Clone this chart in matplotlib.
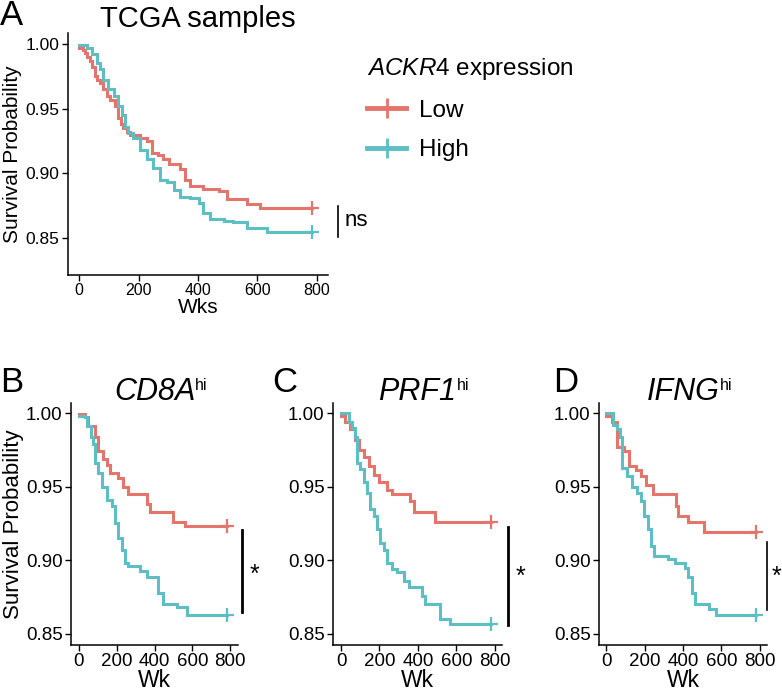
import matplotlib
matplotlib.use("Agg")
import matplotlib.pyplot as plt
from matplotlib.lines import Line2D

plt.rcParams['font.family'] = ['Liberation Sans', 'DejaVu Sans']
plt.rcParams['mathtext.fontset'] = 'custom'
plt.rcParams['mathtext.rm'] = 'Liberation Sans'
plt.rcParams['mathtext.it'] = 'Liberation Sans:italic'

RED = '#E3756D'
TEAL = '#5DBFC3'

# ---- Data (weeks, survival probability) ----
a_low_t = [0, 12, 20, 28, 37, 45, 54, 62, 71, 82, 93, 105, 121, 132, 140, 149, 160, 172, 205, 228, 244, 265,
           283, 301, 340, 357, 374, 418, 469, 497, 564, 609, 783]
a_low_s = [0.997, 0.995, 0.993, 0.990, 0.987, 0.982, 0.975, 0.972, 0.970, 0.965, 0.960, 0.957, 0.952, 0.943,
           0.938, 0.935, 0.932, 0.930, 0.927, 0.925, 0.916, 0.914, 0.911, 0.907, 0.903, 0.895, 0.890, 0.888,
           0.886, 0.880, 0.876, 0.873, 0.873]
a_high_t = [0, 28, 43, 59, 71, 82, 99, 116, 132, 144, 155, 166, 183, 205, 228, 250, 273, 295, 318, 340, 374,
            402, 418, 441, 486, 519, 564, 632, 783]
a_high_s = [0.999, 0.997, 0.992, 0.985, 0.981, 0.972, 0.965, 0.960, 0.952, 0.945, 0.936, 0.931, 0.927, 0.918,
            0.911, 0.904, 0.895, 0.893, 0.887, 0.882, 0.881, 0.877, 0.869, 0.865, 0.863, 0.862, 0.858, 0.855,
            0.855]

b_low_t = [0, 32, 49, 85, 102, 129, 147, 164, 208, 235, 261, 358, 376, 500, 562, 783]
b_low_s = [0.999, 0.997, 0.991, 0.984, 0.974, 0.969, 0.965, 0.959, 0.956, 0.950, 0.945, 0.938, 0.933, 0.926,
           0.923, 0.923]
b_high_t = [0, 32, 44, 62, 76, 85, 102, 120, 147, 173, 191, 208, 226, 244, 261, 323, 358, 420, 447, 517, 570, 783]
b_high_s = [0.998, 0.997, 0.991, 0.984, 0.979, 0.966, 0.959, 0.950, 0.941, 0.937, 0.925, 0.915, 0.907, 0.898,
            0.896, 0.893, 0.889, 0.878, 0.870, 0.868, 0.863, 0.863]

c_low_t = [0, 23, 49, 75, 92, 118, 144, 170, 196, 239, 265, 361, 378, 491, 783]
c_low_s = [0.998, 0.994, 0.989, 0.982, 0.975, 0.970, 0.964, 0.958, 0.953, 0.948, 0.945, 0.940, 0.933, 0.926,
           0.926]
c_high_t = [0, 40, 57, 75, 83, 101, 118, 135, 153, 170, 187, 205, 222, 239, 265, 291, 326, 352, 421, 439, 517,
            569, 783]
c_high_s = [1.000, 0.994, 0.990, 0.984, 0.966, 0.962, 0.953, 0.946, 0.935, 0.930, 0.921, 0.912, 0.907, 0.898,
            0.894, 0.892, 0.886, 0.882, 0.876, 0.870, 0.860, 0.857, 0.857]

d_low_t = [0, 30, 57, 92, 119, 154, 181, 207, 242, 366, 375, 428, 508, 783]
d_low_s = [0.998, 0.994, 0.977, 0.974, 0.964, 0.961, 0.957, 0.951, 0.945, 0.937, 0.930, 0.926, 0.919, 0.919]
d_high_t = [0, 35, 57, 74, 83, 110, 136, 163, 181, 198, 216, 234, 251, 322, 358, 411, 428, 446, 464, 534, 570, 783]
d_high_s = [1.000, 0.992, 0.989, 0.984, 0.963, 0.957, 0.950, 0.946, 0.940, 0.930, 0.921, 0.910, 0.903, 0.901,
            0.898, 0.895, 0.889, 0.878, 0.870, 0.867, 0.863, 0.863]

group_labels = ['Low', 'High']
gene_labels = ['CD8A', 'PRF1', 'IFNG']
x_ticks = [0, 200, 400, 600, 800]
y_ticks = [0.85, 0.90, 0.95, 1.00]
sig_labels = ['ns', '*', '*', '*']

W, H = 782, 692
fig = plt.figure(figsize=(W / 100, H / 100), dpi=100)


def px_axes(left, top, width, height):
    return fig.add_axes([left / W, (H - top - height) / H, width / W, height / H])


def style(ax, xsize, ysize):
    for s in ['top', 'right']:
        ax.spines[s].set_visible(False)
    for s in ['left', 'bottom']:
        ax.spines[s].set_linewidth(1.1)
        ax.spines[s].set_color('black')
    ax.tick_params(direction='out', length=4, width=1.0, colors='black', pad=2)
    ax.tick_params(axis='x', labelsize=xsize)
    ax.tick_params(axis='y', labelsize=ysize)
    ax.set_xticks(x_ticks)
    ax.set_yticks(y_ticks)
    ax.set_yticklabels([f'{v:.2f}' for v in y_ticks])


def km(ax, t, s, color):
    ax.step(t, s, where='post', color=color, lw=2.2, solid_joinstyle='miter')
    ax.plot([t[-1]], [s[-1]], marker='+', color=color, ms=10, mew=1.6, clip_on=False)


# ---- Panel A ----
axA = px_axes(68, 33, 260, 242)
km(axA, a_low_t, a_low_s, RED)
km(axA, a_high_t, a_high_s, TEAL)
axA.set_xlim(-37, 837)
axA.set_ylim(0.8214, 1.0085)
style(axA, 11.5, 12.5)
axA.set_xlabel('Wks', fontsize=15, labelpad=0)
axA.set_ylabel('Survival Probability', fontsize=15)
axA.yaxis.set_label_coords((22 - 68) / 260, 0.5)
axA.set_title('TCGA samples', fontsize=21, pad=4)
axA.plot([870, 870], [0.8507, 0.8747], color='black', lw=1.2, clip_on=False)
axA.text(892, 0.8635, sig_labels[0], fontsize=16, va='center', ha='left')
fig.text(0 / W, 1 - 25 / H, 'A', fontsize=25, ha='left', va='baseline')

handles = [Line2D([], [], color=RED, lw=3.5, marker='+', ms=14, mew=2),
           Line2D([], [], color=TEAL, lw=3.5, marker='+', ms=14, mew=2)]
leg = fig.legend(handles, group_labels, loc='upper left', bbox_to_anchor=(355 / W, 1 - 44 / H),
                 frameon=False, fontsize=17.5, title=r'$\mathit{ACKR4}$ expression', title_fontsize=17.5,
                 handlelength=1.6, handletextpad=0.55, labelspacing=0.72, borderpad=0)
leg._legend_box.align = 'left'

# ---- Panels B, C, D ----
panels = [
    ('B', 0, 71, 167, (-42, 842), b_low_t, b_low_s, b_high_t, b_high_s,
     864, (0.8649, 0.9206), 906, 0.890, 2.0),
    ('C', 272, 333, 169, (-42, 838), c_low_t, c_low_s, c_high_t, c_high_s,
     871, (0.8563, 0.9228), 908, 0.889, 2.0),
    ('D', 553, 599, 168, (-37, 838), d_low_t, d_low_s, d_high_t, d_high_s,
     836, (0.8663, 0.9124), 860, 0.889, 1.2),
]
for i, (letter, lx, left, width, xl, lt, ls, ht, hs, bx, by, sx, sy, blw) in enumerate(panels):
    ax = px_axes(left, 403, width, 242)
    km(ax, lt, ls, RED)
    km(ax, ht, hs, TEAL)
    ax.set_xlim(*xl)
    ax.set_ylim(0.8425, 1.0068)
    style(ax, 13.5, 13.5)
    ax.set_xlabel('Wk', fontsize=16.5, labelpad=-1)
    if i == 0:
        ax.set_ylabel('Survival Probability', fontsize=16)
        ax.yaxis.set_label_coords((24 - 71) / 167, 0.5)
    t = ax.text(0.5, 1.0 + 3 / 242, gene_labels[i], style='italic', fontsize=22,
                transform=ax.transAxes, ha='center', va='baseline')
    ax.annotate('hi', xy=(1.0, 0.97), xycoords=t, xytext=(0, 0), textcoords='offset points',
                fontsize=11.5, ha='left', va='top')
    ax.plot([bx, bx], list(by), color='black', lw=blw, clip_on=False)
    ax.text(sx, sy, sig_labels[i + 1], fontsize=18, va='center', ha='left')
    fig.text(lx / W, 1 - 392 / H, letter, fontsize=25, ha='left', va='baseline')

fig.savefig('out.png', dpi=100)
